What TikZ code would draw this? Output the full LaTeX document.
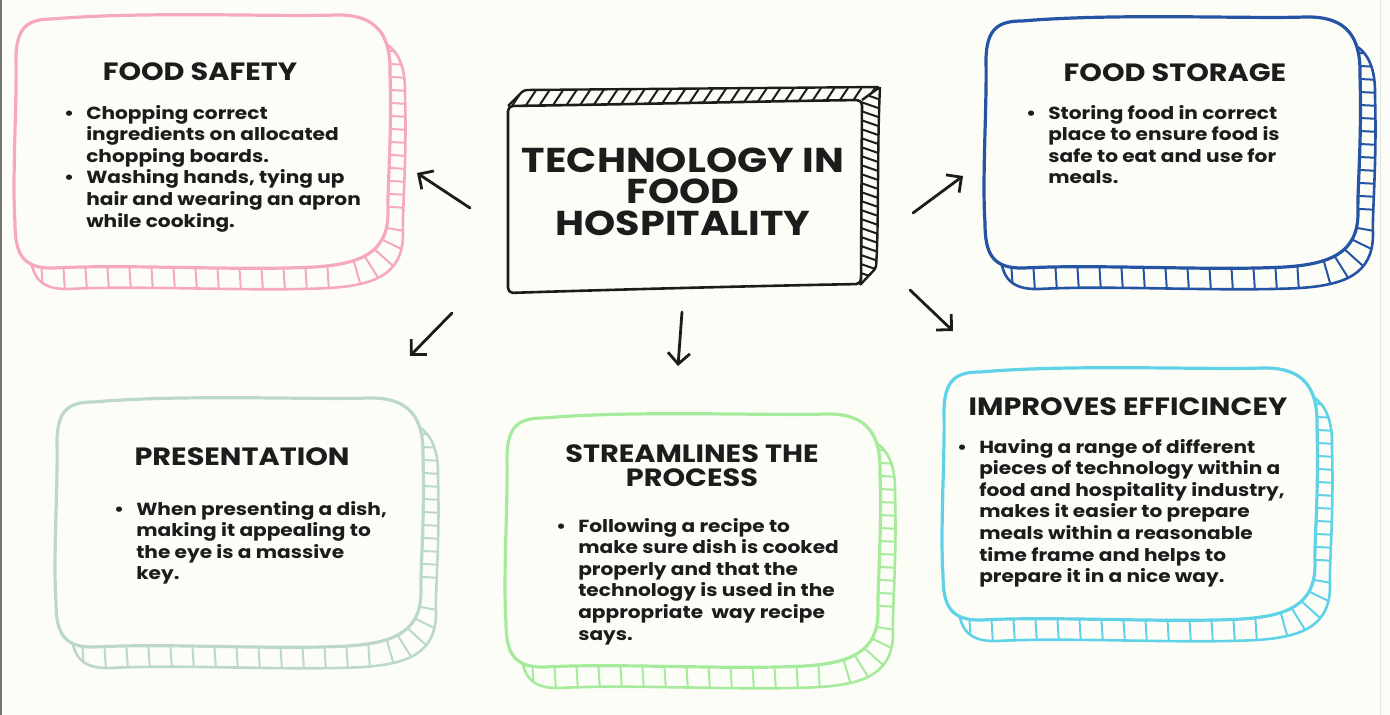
\documentclass[tikz,border=0pt]{standalone}
\usepackage{fontspec}
\newfontfamily\sketchfont[FakeStretch=1.15]{Poppins}
\usetikzlibrary{arrows.meta, positioning}
\definecolor{pagecol}{RGB}{253, 253, 248}
\definecolor{inkcol}{RGB}{28, 28, 28}
\definecolor{safecol}{RGB}{245, 168, 192}
\definecolor{storecol}{RGB}{38, 84, 164}
\definecolor{prescol}{RGB}{188, 216, 204}
\definecolor{streamcol}{RGB}{165, 235, 155}
\definecolor{fastcol}{RGB}{96, 210, 232}
\tikzset{
  cardline/.style = {line width=3.2pt, line join=round},
  rim/.style      = {line width=2.6pt, line join=round},
  hatch/.style    = {line width=2pt},
  cardtitle/.style = {font=\sketchfont\bfseries\fontsize{25}{28}\selectfont,
                      text=inkcol, anchor=base, inner sep=0pt},
  cardbody/.style  = {font=\sketchfont\bfseries\fontsize{17.5}{21.6}\selectfont,
                      text=inkcol, anchor=base west, inner sep=0pt},
  hubtext/.style   = {font=\sketchfont\bfseries\fontsize{34.5}{31.5}\selectfont,
                      text=inkcol, align=center, inner sep=0pt},
  pointer/.style   = {-{Straight Barb[length=11pt, width=22pt]},
                      draw=inkcol, line width=2.8pt, line cap=round},
}
% wobbly card outline: left, top, right, bottom
\newcommand\cardpath[4]{%
  ({#1+38},{#2+5})
  .. controls ({#1+0.35*(#3-#1)},{#2-3}) and ({#1+0.7*(#3-#1)},{#2+3}) .. ({#3-55},{#2+1})
  .. controls ({#3-12},{#2}) and ({#3+1},{#2+22}) .. ({#3},{#2+60})
  .. controls ({#3+2},{#2+0.5*(#4-#2)}) and ({#3-3},{#2+0.7*(#4-#2)}) .. ({#3-2},{#4-55})
  .. controls ({#3-2},{#4-15}) and ({#3-30},{#4-4}) .. ({#3-75},{#4-1})
  .. controls ({#1+0.6*(#3-#1)},{#4+3}) and ({#1+0.3*(#3-#1)},{#4-4}) .. ({#1+40},{#4})
  .. controls ({#1+8},{#4+1}) and ({#1+1},{#4-15}) .. ({#1+1},{#4-45})
  .. controls ({#1-2},{#2+0.65*(#4-#2)}) and ({#1+3},{#2+0.35*(#4-#2)}) .. ({#1+2},{#2+45})
  .. controls ({#1+2},{#2+12}) and ({#1+15},{#2+5}) .. cycle}
% card with its hatched rim: colour, left, top, right, bottom
\newcommand\card[5]{%
  \pgfmathtruncatemacro\nbot{(#4-#2-75)/22}
  \pgfmathtruncatemacro\nside{(#5-#3-95)/13}
  \fill[pagecol, shift={(15,21)}] \cardpath{#2}{#3}{#4}{#5};
  \begin{scope}
    \clip[shift={(15,21)}] \cardpath{#2}{#3}{#4}{#5};
    \foreach \i in {0,...,\nbot}
      \draw[hatch, draw=#1] ({#2+25+22*\i},{#5-40}) -- ++(5,80);
    \foreach \i in {0,...,\nside}
      \draw[hatch, draw=#1] ({#4-40},{#3+35+13*\i}) -- ++(80,4);
    \foreach \a in {10,26,42,58,74}
      \draw[hatch, draw=#1] ({#4-48},{#5-48}) -- ++(\a:130);
  \end{scope}
  \draw[rim, draw=#1, shift={(15,21)}] \cardpath{#2}{#3}{#4}{#5};
  \filldraw[cardline, draw=#1, fill=pagecol] \cardpath{#2}{#3}{#4}{#5};
}

\begin{document}
\begin{tikzpicture}[x=1pt, y=-1pt]
  \useasboundingbox (0,0) rectangle (1390,715);
  \fill[pagecol] (0,0) rectangle (1390,715);
  \draw[black!55, line width=1.5pt] (1,0) -- (1,715);
  \draw[black!10, line width=1pt] (1380,0) -- (1380,715);

  %% ---------------- the hub ----------------
  \begin{scope}
    \clip (508,106) -- (524,90) -- (880,87) -- (862,100) -- cycle;
    \foreach \i in {0,...,27}
      \draw[hatch, draw=inkcol] ({512+13.5*\i},106) -- ++(12,-18);
  \end{scope}
  \begin{scope}
    \clip (862,100) -- (880,87) .. controls (877,150) and (879,220) .. (876,268)
          -- (860,285) -- cycle;
    \foreach \i in {0,...,21}
      \draw[hatch, draw=inkcol] (858,{92+9*\i}) -- ++(26,9);
  \end{scope}
  \draw[cardline, draw=inkcol, line width=2.4pt, rounded corners=3pt]
    (508,106) -- (524,90) -- (880,87) -- (862,100)
    (880,87) .. controls (877,150) and (879,220) .. (876,268) -- (860,285);
  \draw[cardline, draw=inkcol, line width=2.6pt, rounded corners=5pt]
    (508,106) .. controls (650,104) and (780,101) .. (862,100)
    -- (861,284) .. controls (750,286) and (600,290) .. (508,293) -- cycle;
  \node[hubtext] (hub) at (683,191.5) {TECHNOLOGY IN\\FOOD\\HOSPITALITY};

  %% ---------------- the cards ----------------
  \card{safecol}{14}{14}{390}{268}
  \card{storecol}{984}{16}{1360}{268}
  \card{prescol}{55}{397}{423}{647}
  \card{streamcol}{505}{413}{880}{667}
  \card{fastcol}{942}{367}{1317}{620}

  \node[cardtitle] (safeT) at (200,80) {FOOD SAFETY};
  \node[cardbody] (safeB) at (64,119)
    {\begin{tabular}[t]{@{}l@{\hspace{12pt}}l@{}}
      \textbullet & Chopping correct\\
                  & ingredients on allocated\\
                  & chopping boards.\\
      \textbullet & Washing hands, tying up\\
                  & hair and wearing an apron\\
                  & while cooking.
     \end{tabular}};

  \node[cardtitle] (storeT) at (1175,81) {FOOD STORAGE};
  \node[cardbody] (storeB) at (1026,119)
    {\begin{tabular}[t]{@{}l@{\hspace{12pt}}l@{}}
      \textbullet & Storing food in correct\\
                  & place to ensure food is\\
                  & safe to eat and use for\\
                  & meals.
     \end{tabular}};

  \node[cardtitle] (presT) at (242,465) {PRESENTATION};
  \node[cardbody] (presB) at (114,515)
    {\begin{tabular}[t]{@{}l@{\hspace{12pt}}l@{}}
      \textbullet & When presenting a dish,\\
                  & making it appealing to\\
                  & the eye is a massive\\
                  & key.
     \end{tabular}};

  \node[cardtitle] (streamT) at (692,462) {STREAMLINES THE};
  \node[cardtitle] (streamT2) at (692,486) {PROCESS};
  \node[cardbody] (streamB) at (556,532)
    {\begin{tabular}[t]{@{}l@{\hspace{12pt}}l@{}}
      \textbullet & Following a recipe to\\
                  & make sure dish is cooked\\
                  & properly and that the\\
                  & technology is used in the\\
                  & appropriate\ \ way recipe\\
                  & says.
     \end{tabular}};

  \node[cardtitle] (fastT) at (1128,415) {IMPROVES EFFICINCEY};
  \node[cardbody] (fastB) at (957,453)
    {\begin{tabular}[t]{@{}l@{\hspace{12pt}}l@{}}
      \textbullet & Having a range of different\\
                  & pieces of technology within a\\
                  & food and hospitality industry,\\
                  & makes it easier to prepare\\
                  & meals within a reasonable\\
                  & time frame and helps to\\
                  & prepare it in a nice way.
     \end{tabular}};

  %% ---------------- arrows ----------------
  \coordinate (toSafeA) at (470,208);  \coordinate (toSafeB) at (417,173);
  \coordinate (toStoreA) at (913,213); \coordinate (toStoreB) at (963,176);
  \coordinate (toPresA) at (452,313);  \coordinate (toPresB) at (410,356);
  \coordinate (toStreamA) at (682,312); \coordinate (toStreamB) at (678,366);
  \coordinate (toFastA) at (910,290);  \coordinate (toFastB) at (953,331);
  \draw[pointer] (toSafeA) -- (toSafeB);
  \draw[pointer] (toStoreA) -- (toStoreB);
  \draw[pointer] (toPresA) -- (toPresB);
  \draw[pointer] (toStreamA) -- (toStreamB);
  \draw[pointer] (toFastA) -- (toFastB);
\end{tikzpicture}
\end{document}
